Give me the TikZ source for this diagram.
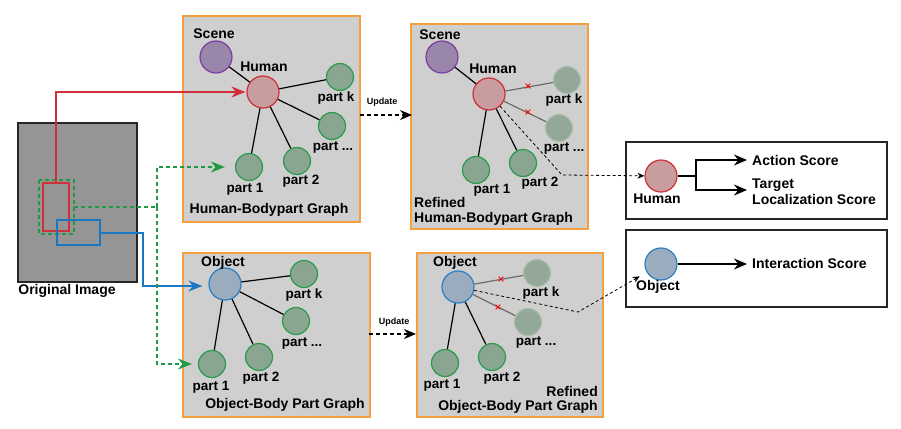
\documentclass[tikz,border=0pt]{standalone}
\usepackage{fontspec}
\setmainfont{Liberation Sans}
\usetikzlibrary{arrows.meta,shapes.misc}
\definecolor{boxfill}{HTML}{CFCFCF}
\definecolor{boxedge}{HTML}{F5A040}
\definecolor{imgfill}{HTML}{959595}
\definecolor{humf}{HTML}{C99CA0}
\definecolor{humb}{HTML}{CC3038}
\definecolor{scnf}{HTML}{9A85AB}
\definecolor{scnb}{HTML}{7A3F9E}
\definecolor{partf}{HTML}{8AA690}
\definecolor{partb}{HTML}{2A9A4C}
\definecolor{fadef}{HTML}{93A898}
\definecolor{fadeb}{HTML}{A8BDA9}
\definecolor{objf}{HTML}{9AACBD}
\definecolor{objb}{HTML}{2A7FC4}
\definecolor{gdash}{HTML}{1F9A45}
\definecolor{bline}{HTML}{1A78C2}
\definecolor{rline}{HTML}{D0303A}
\tikzset{
  graphbox/.style={draw=boxedge, fill=boxfill, line width=1.3pt},
  big/.style={circle, minimum size=32pt, inner sep=0pt, line width=1.2pt},
  hum/.style={big, draw=humb, fill=humf},
  scn/.style={big, draw=scnb, fill=scnf},
  obj/.style={big, draw=objb, fill=objf},
  part/.style={circle, minimum size=27pt, inner sep=0pt, line width=1.2pt, draw=partb, fill=partf},
  fpart/.style={circle, minimum size=27pt, inner sep=0pt, line width=1.2pt, draw=fadeb, fill=fadef},
  lbl/.style={font=\fontsize{14}{16}\selectfont\bfseries, inner sep=0pt, align=left},
  plbl/.style={font=\fontsize{13.5}{16}\selectfont\bfseries, inner sep=0pt},
  small/.style={font=\fontsize{9}{10}\selectfont\bfseries, inner sep=0pt},
  edge/.style={line width=1.2pt, black},
  fedge/.style={line width=1.2pt, gray!85!black},
  xmark/.style={cross out, draw=red, minimum size=4pt, inner sep=0pt, line width=0.8pt},
  dsh/.style={dashed, dash pattern=on 3pt off 2.5pt, line width=0.8pt, -{Stealth[length=7pt,width=6pt]}},
  upd/.style={dash pattern=on 4pt off 3pt, line width=1.3pt, -{Stealth[length=12pt,width=10pt]}},
  outarr/.style={line width=1.3pt, -{Stealth[length=13pt,width=11pt]}},
  inarr/.style={-{Stealth[length=14pt,width=11pt]}},
}
\begin{document}
\begin{tikzpicture}[x=1pt,y=-1pt]
\useasboundingbox (0,0) rectangle (901,428);

% original image
\draw[fill=imgfill, draw=black!85, line width=1.3pt] (18,123) rectangle (137,282);
\node[lbl] (origlbl) at (67,291) {Original Image};
\draw[rline, line width=1.2pt] (43,183) rectangle (69,231);
\draw[gdash, line width=1.2pt, dash pattern=on 4pt off 3pt] (39,180) rectangle (74,234);
\draw[bline, line width=1.2pt] (57,220) rectangle (100,245);
\coordinate (redtop) at (56,183);
\coordinate (gstart) at (74,207);
\coordinate (gmid) at (157,207);
\coordinate (bstart) at (100,233);

% graph boxes
\draw[graphbox] (183,16) rectangle (360,222);
\draw[graphbox] (411,24) rectangle (588,229);
\draw[graphbox] (183,253) rectangle (370,417);
\draw[graphbox] (417,253) rectangle (603,417);

% ---- Human-Bodypart graph
\node[scn] (s1) at (216,57) {};
\node[hum] (h1) at (263,92) {};
\node[part] (k1) at (340,77) {};
\node[part] (d1) at (332,126) {};
\node[part] (p21) at (297,161) {};
\node[part] (p11) at (249,167) {};
\draw[edge] (s1) -- (h1);
\draw[edge] (h1) -- (k1);
\draw[edge] (h1) -- (d1);
\draw[edge] (h1) -- (p21);
\draw[edge] (h1) -- (p11);
\node[lbl] (s1l) at (214,34) {Scene};
\node[lbl] (h1l) at (264,67) {Human};
\node[plbl] (k1l) at (336,98) {part k};
\node[plbl] (d1l) at (333,147) {part ...};
\node[plbl] (p21l) at (301,181) {part 2};
\node[plbl] (p11l) at (245,189) {part 1};
\node[lbl] (g1l) at (269,210) {Human-Bodypart Graph};

% ---- Refined Human-Bodypart graph
\node[scn] (s2) at (442,57) {};
\node[hum] (h2) at (489,94) {};
\node[fpart] (k2) at (567,80) {};
\node[fpart] (d2) at (559,128) {};
\node[part] (p22) at (523,163) {};
\node[part] (p12) at (476,170) {};
\draw[edge] (s2) -- (h2);
\draw[fedge] (h2) -- (k2);
\draw[fedge] (h2) -- (d2);
\draw[edge] (h2) -- (p22);
\draw[edge] (h2) -- (p12);
\node[xmark] (x1) at (528,86) {};
\node[xmark] (x2) at (528,112) {};
\node[lbl] (s2l) at (440,35) {Scene};
\node[lbl] (h2l) at (493,69) {Human};
\node[plbl] (k2l) at (564,100) {part k};
\node[plbl] (d2l) at (564,148) {part ...};
\node[plbl] (p22l) at (540,183) {part 2};
\node[plbl] (p12l) at (492,190) {part 1};
\node[lbl, anchor=west] (r1l) at (414,202) {Refined};
\node[lbl, anchor=west] (g2l) at (414,219) {Human-Bodypart Graph};

% ---- Object-Body Part graph
\node[obj] (o1) at (225,284) {};
\node[part] (k3) at (304,274) {};
\node[part] (d3) at (296,321) {};
\node[part] (p23) at (259,357) {};
\node[part] (p13) at (212,364) {};
\draw[edge] (o1) -- (k3);
\draw[edge] (o1) -- (d3);
\draw[edge] (o1) -- (p23);
\draw[edge] (o1) -- (p13);
\node[lbl] (o1l) at (223,263) {Object};
\node[plbl] (k3l) at (304,295) {part k};
\node[plbl] (d3l) at (302,343) {part ...};
\node[plbl] (p23l) at (261,378) {part 2};
\node[plbl] (p13l) at (211,387) {part 1};
\node[lbl] (g3l) at (285,405) {Object-Body Part Graph};

% ---- Refined Object-Body Part graph
\node[obj] (o2) at (458,287) {};
\node[fpart] (k4) at (537,273) {};
\node[fpart] (d4) at (528,322) {};
\node[part] (p24) at (492,357) {};
\node[part] (p14) at (445,363) {};
\draw[fedge] (o2) -- (k4);
\draw[fedge] (o2) -- (d4);
\draw[edge] (o2) -- (p24);
\draw[edge] (o2) -- (p14);
\node[xmark] (x3) at (501,279) {};
\node[xmark] (x4) at (498,307) {};
\node[lbl] (o2l) at (455,263) {Object};
\node[plbl] (k4l) at (541,293) {part k};
\node[plbl] (d4l) at (536,342) {part ...};
\node[plbl] (p24l) at (502,378) {part 2};
\node[plbl] (p14l) at (442,385) {part 1};
\node[lbl, anchor=east] (r2l) at (598,391) {Refined};
\node[lbl] (g4l) at (518,407) {Object-Body Part Graph};

% ---- output boxes
\draw[black!85, line width=1.1pt] (626,142) rectangle (887,219);
\draw[black!85, line width=1.1pt] (626,230) rectangle (887,307);
\node[hum] (fh) at (661,176) {};
\node[lbl] (fhl) at (657,199) {Human};
\node[obj] (fo) at (661,264) {};
\node[lbl] (fol) at (658,287) {Object};
\coordinate (br) at (696,176);
\coordinate (asend) at (747,160);
\coordinate (tlend) at (747,190);
\coordinate (isend) at (747,264);
\node[lbl, anchor=west] (asl) at (752,160) {Action Score};
\node[lbl, anchor=west] (tll) at (752,192) {Target\\Localization Score};
\node[lbl, anchor=west] (isl) at (752,263) {Interaction Score};
\draw[line width=1.3pt] (fh) -- (br);
\draw[outarr] (br) |- (asend);
\draw[outarr] (br) |- (tlend);
\draw[outarr] (fo) -- (isend);

% ---- connectors from original image
\draw[rline, line width=1.2pt, inarr, shorten >=1pt] (redtop) |- (h1);
\draw[bline, line width=1.2pt, inarr, shorten >=6pt] (bstart) -| (143,286) -- (o1.west |- 0,286);
\draw[gdash, line width=1.2pt, dash pattern=on 4pt off 3pt] (gstart) -- (gmid);
\draw[gdash, line width=1.2pt, dash pattern=on 4pt off 3pt, inarr, shorten >=10pt] (gmid) |- (p11);
\draw[gdash, line width=1.2pt, dash pattern=on 4pt off 3pt, inarr, shorten >=6pt] (gmid) |- (p13);

% ---- update arrows
\node[small] (u1) at (382,102) {Update};
\node[small] (u2) at (394,322) {Update};
\draw[upd] (360,115) -- (412,115);
\draw[upd] (369,334) -- (416,334);

% ---- refined to output
\coordinate (bendH) at (562,175);
\coordinate (bendO) at (578,312);
\draw[dsh] (h2) -- (bendH) -- (fh);
\draw[dsh, shorten >=8pt] (o2) -- (bendO) -- (fo);
\end{tikzpicture}
\end{document}
